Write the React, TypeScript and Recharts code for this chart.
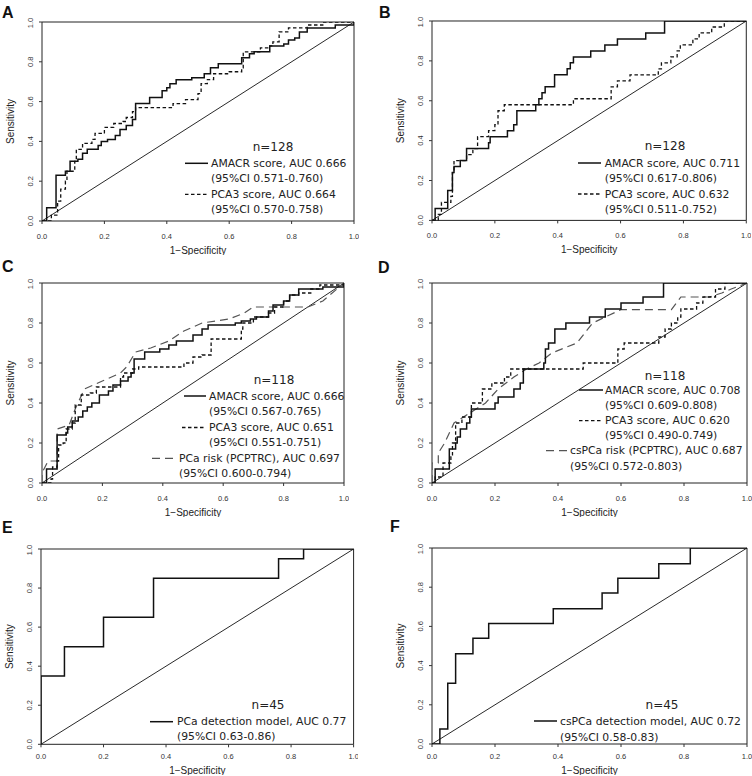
import React from "react";
import { LineChart, Line, XAxis, YAxis, ReferenceArea, ReferenceLine } from "recharts";

type Pt = [number, number];

// ROC curve vertices: [1 - specificity, sensitivity]
const aAmacr: Pt[] = [
  [0, 0], [0.015, 0.067], [0.045, 0.23], [0.075, 0.25], [0.09, 0.3], [0.115, 0.31], [0.13, 0.34],
  [0.145, 0.36], [0.18, 0.38], [0.19, 0.4], [0.21, 0.41], [0.235, 0.43], [0.25, 0.46], [0.27, 0.48],
  [0.29, 0.51], [0.3, 0.59], [0.345, 0.62], [0.385, 0.655], [0.4, 0.67], [0.41, 0.69], [0.43, 0.71],
  [0.48, 0.72], [0.52, 0.74], [0.54, 0.77], [0.565, 0.79], [0.64, 0.82], [0.665, 0.84], [0.68, 0.85],
  [0.73, 0.88], [0.775, 0.89], [0.79, 0.91], [0.81, 0.92], [0.825, 0.95], [0.85, 0.97], [0.94, 0.985],
  [1, 1],
];
const aPca3: Pt[] = [
  [0, 0], [0.03, 0.03], [0.05, 0.1], [0.06, 0.16], [0.075, 0.2], [0.08, 0.25], [0.105, 0.3],
  [0.11, 0.36], [0.13, 0.39], [0.16, 0.41], [0.17, 0.44], [0.2, 0.47], [0.23, 0.49], [0.26, 0.5],
  [0.27, 0.52], [0.29, 0.55], [0.3, 0.57], [0.42, 0.59], [0.46, 0.61], [0.5, 0.64], [0.51, 0.69],
  [0.53, 0.71], [0.55, 0.74], [0.6, 0.75], [0.64, 0.77], [0.645, 0.85], [0.7, 0.87], [0.73, 0.88],
  [0.74, 0.9], [0.76, 0.95], [0.79, 0.97], [0.85, 0.985], [0.9, 1], [1, 1],
];
const bAmacr: Pt[] = [
  [0, 0], [0.01, 0.06], [0.05, 0.15], [0.065, 0.24], [0.07, 0.27], [0.09, 0.3], [0.11, 0.36],
  [0.18, 0.39], [0.185, 0.42], [0.24, 0.45], [0.26, 0.48], [0.27, 0.55], [0.33, 0.58], [0.34, 0.61],
  [0.35, 0.64], [0.36, 0.67], [0.39, 0.73], [0.43, 0.76], [0.44, 0.79], [0.45, 0.82], [0.505, 0.85],
  [0.55, 0.88], [0.59, 0.91], [0.68, 0.94], [0.74, 1], [1, 1],
];
const bPca3: Pt[] = [
  [0, 0], [0.02, 0.03], [0.03, 0.09], [0.06, 0.12], [0.065, 0.24], [0.07, 0.3], [0.11, 0.33],
  [0.13, 0.36], [0.145, 0.42], [0.18, 0.45], [0.2, 0.48], [0.21, 0.55], [0.23, 0.58], [0.45, 0.61],
  [0.57, 0.67], [0.59, 0.7], [0.63, 0.73], [0.72, 0.76], [0.73, 0.79], [0.76, 0.82], [0.78, 0.85],
  [0.79, 0.88], [0.83, 0.91], [0.85, 0.94], [0.89, 0.97], [0.93, 1], [1, 1],
];
const cAmacr: Pt[] = [
  [0, 0], [0.015, 0.07], [0.05, 0.24], [0.08, 0.25], [0.085, 0.28], [0.1, 0.31], [0.12, 0.33],
  [0.135, 0.36], [0.15, 0.38], [0.165, 0.4], [0.19, 0.44], [0.22, 0.46], [0.235, 0.49], [0.26, 0.51],
  [0.285, 0.53], [0.295, 0.55], [0.305, 0.62], [0.34, 0.655], [0.39, 0.67], [0.42, 0.69],
  [0.445, 0.71], [0.5, 0.74], [0.53, 0.77], [0.55, 0.79], [0.64, 0.8], [0.66, 0.81], [0.69, 0.82],
  [0.71, 0.83], [0.75, 0.86], [0.765, 0.89], [0.8, 0.91], [0.82, 0.94], [0.85, 0.97], [0.93, 0.98],
  [1, 1],
];
const cPca3: Pt[] = [
  [0, 0], [0.03, 0.02], [0.035, 0.08], [0.05, 0.11], [0.055, 0.19], [0.07, 0.2], [0.08, 0.27],
  [0.1, 0.3], [0.11, 0.39], [0.13, 0.44], [0.16, 0.45], [0.18, 0.48], [0.26, 0.53], [0.27, 0.55],
  [0.3, 0.57], [0.32, 0.58], [0.47, 0.6], [0.5, 0.63], [0.53, 0.64], [0.56, 0.72], [0.66, 0.77],
  [0.665, 0.8], [0.7, 0.83], [0.75, 0.85], [0.77, 0.88], [0.8, 0.91], [0.82, 0.94], [0.85, 0.95],
  [0.89, 0.97], [0.92, 0.99], [1, 1],
];
const cRisk: Pt[] = [
  [0, 0], [0, 0.05], [0.02, 0.11], [0.05, 0.11], [0.05, 0.27], [0.09, 0.29], [0.11, 0.37],
  [0.14, 0.47], [0.2, 0.51], [0.26, 0.55], [0.28, 0.58], [0.31, 0.655], [0.36, 0.675], [0.42, 0.71],
  [0.47, 0.76], [0.53, 0.8], [0.62, 0.82], [0.67, 0.85], [0.7, 0.88], [0.88, 0.88], [0.93, 0.91],
  [1, 1],
];
const dAmacr: Pt[] = [
  [0, 0], [0.01, 0.07], [0.055, 0.17], [0.075, 0.2], [0.08, 0.23], [0.09, 0.27], [0.11, 0.3],
  [0.12, 0.33], [0.125, 0.37], [0.2, 0.4], [0.21, 0.43], [0.26, 0.47], [0.28, 0.5], [0.29, 0.57],
  [0.355, 0.6], [0.36, 0.67], [0.37, 0.7], [0.39, 0.77], [0.425, 0.8], [0.5, 0.83], [0.55, 0.87],
  [0.6, 0.9], [0.67, 0.93], [0.735, 1], [1, 1],
];
const dPca3: Pt[] = [
  [0, 0], [0.01, 0.03], [0.035, 0.1], [0.06, 0.13], [0.065, 0.2], [0.075, 0.3], [0.095, 0.33],
  [0.125, 0.4], [0.16, 0.47], [0.19, 0.5], [0.23, 0.53], [0.25, 0.57], [0.48, 0.6], [0.59, 0.67],
  [0.61, 0.7], [0.72, 0.73], [0.74, 0.77], [0.76, 0.8], [0.78, 0.83], [0.79, 0.87], [0.84, 0.9],
  [0.86, 0.93], [0.9, 0.97], [0.93, 1], [1, 1],
];
const dRisk: Pt[] = [
  [0, 0], [0, 0.1], [0.02, 0.1], [0.02, 0.15], [0.04, 0.2], [0.07, 0.3], [0.1, 0.33], [0.14, 0.37],
  [0.17, 0.4], [0.21, 0.47], [0.26, 0.53], [0.3, 0.57], [0.34, 0.6], [0.38, 0.65], [0.46, 0.7],
  [0.51, 0.8], [0.55, 0.83], [0.6, 0.867], [0.76, 0.867], [0.79, 0.93], [0.88, 0.93], [0.92, 0.95],
  [0.95, 0.97], [1, 1],
];
const eModel: Pt[] = [
  [0, 0], [0, 0.35], [0.075, 0.5], [0.2, 0.65], [0.36, 0.85], [0.76, 0.95], [0.84, 1], [1, 1],
];
const fModel: Pt[] = [
  [0, 0], [0.025, 0.077], [0.05, 0.31], [0.075, 0.46], [0.13, 0.54], [0.18, 0.615], [0.385, 0.69],
  [0.54, 0.77], [0.59, 0.846], [0.72, 0.92], [0.82, 1], [1, 1],
];

const axisTicks = [0, 0.2, 0.4, 0.6, 0.8, 1];

const aLegend = ["AMACR score, AUC 0.666", "(95%CI 0.571-0.760)", "PCA3 score, AUC 0.664", "(95%CI 0.570-0.758)"];
const bLegend = ["AMACR score, AUC 0.711", "(95%CI 0.617-0.806)", "PCA3 score, AUC 0.632", "(95%CI 0.511-0.752)"];
const cLegend = [
  "AMACR score, AUC 0.666", "(95%CI 0.567-0.765)", "PCA3 score, AUC 0.651", "(95%CI 0.551-0.751)",
  "PCa risk (PCPTRC), AUC 0.697", "(95%CI 0.600-0.794)",
];
const dLegend = [
  "AMACR score, AUC 0.708", "(95%CI 0.609-0.808)", "PCA3 score, AUC 0.620", "(95%CI 0.490-0.749)",
  "csPCa risk (PCPTRC), AUC 0.687", "(95%CI 0.572-0.803)",
];
const eLegend = ["PCa detection model, AUC 0.77", "(95%CI 0.63-0.86)"];
const fLegend = ["csPCa detection model, AUC 0.72", "(95%CI 0.58-0.83)"];

type Kind = "solid" | "short" | "long";

const STYLES: Record<Kind, { stroke: string; width: number; dash?: string }> = {
  solid: { stroke: "#111", width: 1.5 },
  short: { stroke: "#111", width: 1.3, dash: "3.5 2.5" },
  long: { stroke: "#555", width: 1.2, dash: "8 5" },
};

interface Series { pts: Pt[]; kind: Kind; step: boolean }
interface Row { text: string; y: number; x: number; line?: [number, number, Kind] }
interface Panel {
  letter: string;
  lx: number;
  ly: number;
  box: { l: number; t: number; r: number; b: number };
  xh: number; // height of the x-axis band (tick labels + title)
  tickBase: number; // baseline of x tick labels below the box
  series: Series[];
  n: { text: string; x: number; y: number };
  rows: Row[];
}

const panels: Panel[] = [
  {
    letter: "A", lx: 2, ly: 18,
    box: { l: 42.3, t: 22, r: 354.3, b: 221 }, xh: 33, tickBase: 18,
    series: [{ pts: aPca3, kind: "short", step: true }, { pts: aAmacr, kind: "solid", step: true }],
    n: { text: "n=128", x: 273, y: 146.5 },
    rows: [
      { text: aLegend[0], y: 163.3, x: 211, line: [185, 208, "solid"] },
      { text: aLegend[1], y: 178.7, x: 211 },
      { text: aLegend[2], y: 194.3, x: 211, line: [185, 208, "short"] },
      { text: aLegend[3], y: 209.7, x: 211 },
    ],
  },
  {
    letter: "B", lx: 379, ly: 18,
    box: { l: 431.7, t: 21.3, r: 746, b: 220.7 }, xh: 33, tickBase: 18,
    series: [{ pts: bPca3, kind: "short", step: true }, { pts: bAmacr, kind: "solid", step: true }],
    n: { text: "n=128", x: 665, y: 146 },
    rows: [
      { text: bLegend[0], y: 163, x: 604.7, line: [578, 601, "solid"] },
      { text: bLegend[1], y: 178.5, x: 604.7 },
      { text: bLegend[2], y: 194, x: 604.7, line: [578, 601, "short"] },
      { text: bLegend[3], y: 209.5, x: 604.7 },
    ],
  },
  {
    letter: "C", lx: 2, ly: 272,
    box: { l: 42, t: 283.3, r: 344, b: 483.3 }, xh: 33, tickBase: 18,
    series: [
      { pts: cRisk, kind: "long", step: false },
      { pts: cPca3, kind: "short", step: true },
      { pts: cAmacr, kind: "solid", step: true },
    ],
    n: { text: "n=118", x: 274, y: 380 },
    rows: [
      { text: cLegend[0], y: 396, x: 209, line: [184, 206, "solid"] },
      { text: cLegend[1], y: 411.7, x: 209 },
      { text: cLegend[2], y: 427.5, x: 209, line: [182, 206, "short"] },
      { text: cLegend[3], y: 442.7, x: 209 },
      { text: cLegend[4], y: 458.3, x: 179, line: [152, 174, "long"] },
      { text: cLegend[5], y: 473.3, x: 179 },
    ],
  },
  {
    letter: "D", lx: 378, ly: 273,
    box: { l: 431.7, t: 283.3, r: 746.7, b: 483.3 }, xh: 33, tickBase: 18,
    series: [
      { pts: dRisk, kind: "long", step: false },
      { pts: dPca3, kind: "short", step: true },
      { pts: dAmacr, kind: "solid", step: true },
    ],
    n: { text: "n=118", x: 665, y: 376 },
    rows: [
      { text: dLegend[0], y: 390, x: 605, line: [579, 603, "solid"] },
      { text: dLegend[1], y: 405.5, x: 605 },
      { text: dLegend[2], y: 420.7, x: 605, line: [579, 603, "short"] },
      { text: dLegend[3], y: 435.7, x: 605 },
      { text: dLegend[4], y: 450.7, x: 570, line: [546, 567, "long"] },
      { text: dLegend[5], y: 466, x: 570 },
    ],
  },
  {
    letter: "E", lx: 2, ly: 533,
    box: { l: 40.7, t: 548.7, r: 353.3, b: 744 }, xh: 30, tickBase: 15,
    series: [{ pts: eModel, kind: "solid", step: true }],
    n: { text: "n=45", x: 268, y: 705 },
    rows: [
      { text: eLegend[0], y: 721.7, x: 177, line: [150, 173, "solid"] },
      { text: eLegend[1], y: 736.7, x: 177 },
    ],
  },
  {
    letter: "F", lx: 390, ly: 532,
    box: { l: 431.7, t: 548, r: 746.7, b: 744 }, xh: 30, tickBase: 15,
    series: [{ pts: fModel, kind: "solid", step: true }],
    n: { text: "n=45", x: 662, y: 705 },
    rows: [
      { text: fLegend[0], y: 721, x: 560, line: [534, 557, "solid"] },
      { text: fLegend[1], y: 737, x: 560 },
    ],
  },
];

const AXIS_FONT = "'Liberation Sans', Arial, sans-serif";
const LEGEND_FONT = "'DejaVu Sans', Verdana, sans-serif";

const renderYTick = (props: any) => {
  const { x, y, payload } = props;
  return (
    <g transform={`translate(${x - 4},${y}) rotate(-90)`}>
      <text textAnchor="middle" fontSize={7.5} fill="#333" fontFamily={AXIS_FONT}>
        {Number(payload.value).toFixed(1)}
      </text>
    </g>
  );
};

// x tick labels placed at a fixed baseline below the plot box
const makeXTick = (baseY: number) => (props: any) => {
  const { x, payload } = props;
  return (
    <text x={x} y={baseY} textAnchor="middle" fontSize={7.5} fill="#333" fontFamily={AXIS_FONT}>
      {Number(payload.value).toFixed(1)}
    </text>
  );
};

const PAD_L = 40;
const PAD_T = 8;
const PAD_R = 5;
const Y_W = 36;

const RocPanel = ({ p }: { p: Panel }) => {
  const w = p.box.r - p.box.l;
  const h = p.box.b - p.box.t;
  const padB = p.xh + 1;
  // plot bottom in this chart's own coordinates
  const plotBottom = PAD_T + h;
  return (
    <div style={{ position: "absolute", left: p.box.l - PAD_L, top: p.box.t - PAD_T }}>
      <LineChart
        width={w + PAD_L + PAD_R}
        height={h + PAD_T + padB}
        margin={{ top: PAD_T, right: PAD_R, left: PAD_L - Y_W, bottom: padB - p.xh }}
      >
        <XAxis
          dataKey="x"
          type="number"
          domain={[0, 1]}
          ticks={axisTicks}
          allowDataOverflow
          height={p.xh}
          axisLine={false}
          tickSize={3}
          tickLine={{ stroke: "#333" }}
          tick={makeXTick(plotBottom + p.tickBase)}
          label={{
            value: "1\u2212Specificity",
            position: "insideBottom",
            offset: 0,
            style: { fontSize: 10, fill: "#222", fontFamily: AXIS_FONT },
          }}
        />
        <YAxis
          dataKey="y"
          type="number"
          domain={[0, 1]}
          ticks={axisTicks}
          allowDataOverflow
          width={Y_W}
          axisLine={false}
          tickSize={3}
          tickLine={{ stroke: "#333" }}
          tick={renderYTick}
          label={{
            value: "Sensitivity",
            angle: -90,
            position: "insideLeft",
            offset: 4,
            style: { fontSize: 10, fill: "#222", fontFamily: AXIS_FONT, textAnchor: "middle" },
          }}
        />
        <ReferenceArea x1={0} x2={1} y1={0} y2={1} fill="none" stroke="#222" strokeWidth={1} />
        <ReferenceLine
          segment={[{ x: 0, y: 0 }, { x: 1, y: 1 }]}
          stroke="#111"
          strokeWidth={0.9}
        />
        {p.series.map((s, i) => {
          const st = STYLES[s.kind];
          return (
            <Line
              key={i}
              data={s.pts.map(([x, y]) => ({ x, y }))}
              dataKey="y"
              type={s.step ? "stepAfter" : "linear"}
              stroke={st.stroke}
              strokeWidth={st.width}
              strokeDasharray={st.dash}
              dot={false}
              activeDot={false}
              isAnimationActive={false}
            />
          );
        })}
      </LineChart>
    </div>
  );
};

const Overlay = () => (
  <svg
    width={752}
    height={776}
    style={{ position: "absolute", left: 0, top: 0, pointerEvents: "none" }}
  >
    {panels.map((p) => (
      <g key={p.letter}>
        <text x={p.lx} y={p.ly} fontSize={16} fontWeight="bold" fontFamily={AXIS_FONT} fill="#111">
          {p.letter}
        </text>
        <text
          x={p.n.x}
          y={p.n.y}
          textAnchor="middle"
          dominantBaseline="central"
          fontSize={12}
          fontFamily={LEGEND_FONT}
          fill="#222"
        >
          {p.n.text}
        </text>
        {p.rows.map((r, i) => (
          <g key={i}>
            {r.line && (
              <line
                x1={r.line[0]}
                x2={r.line[1]}
                y1={r.y}
                y2={r.y}
                stroke={STYLES[r.line[2]].stroke}
                strokeWidth={STYLES[r.line[2]].width}
                strokeDasharray={STYLES[r.line[2]].dash}
              />
            )}
            <text
              x={r.x}
              y={r.y}
              dominantBaseline="central"
              fontSize={10.8}
              fontFamily={LEGEND_FONT}
              fill="#222"
            >
              {r.text}
            </text>
          </g>
        ))}
      </g>
    ))}
  </svg>
);

export default function App() {
  return (
    <div
      style={{
        position: "absolute",
        left: 0,
        top: 0,
        width: 752,
        height: 776,
        background: "#fff",
        overflow: "hidden",
      }}
    >
      {panels.map((p) => (
        <RocPanel key={p.letter} p={p} />
      ))}
      <Overlay />
    </div>
  );
}
